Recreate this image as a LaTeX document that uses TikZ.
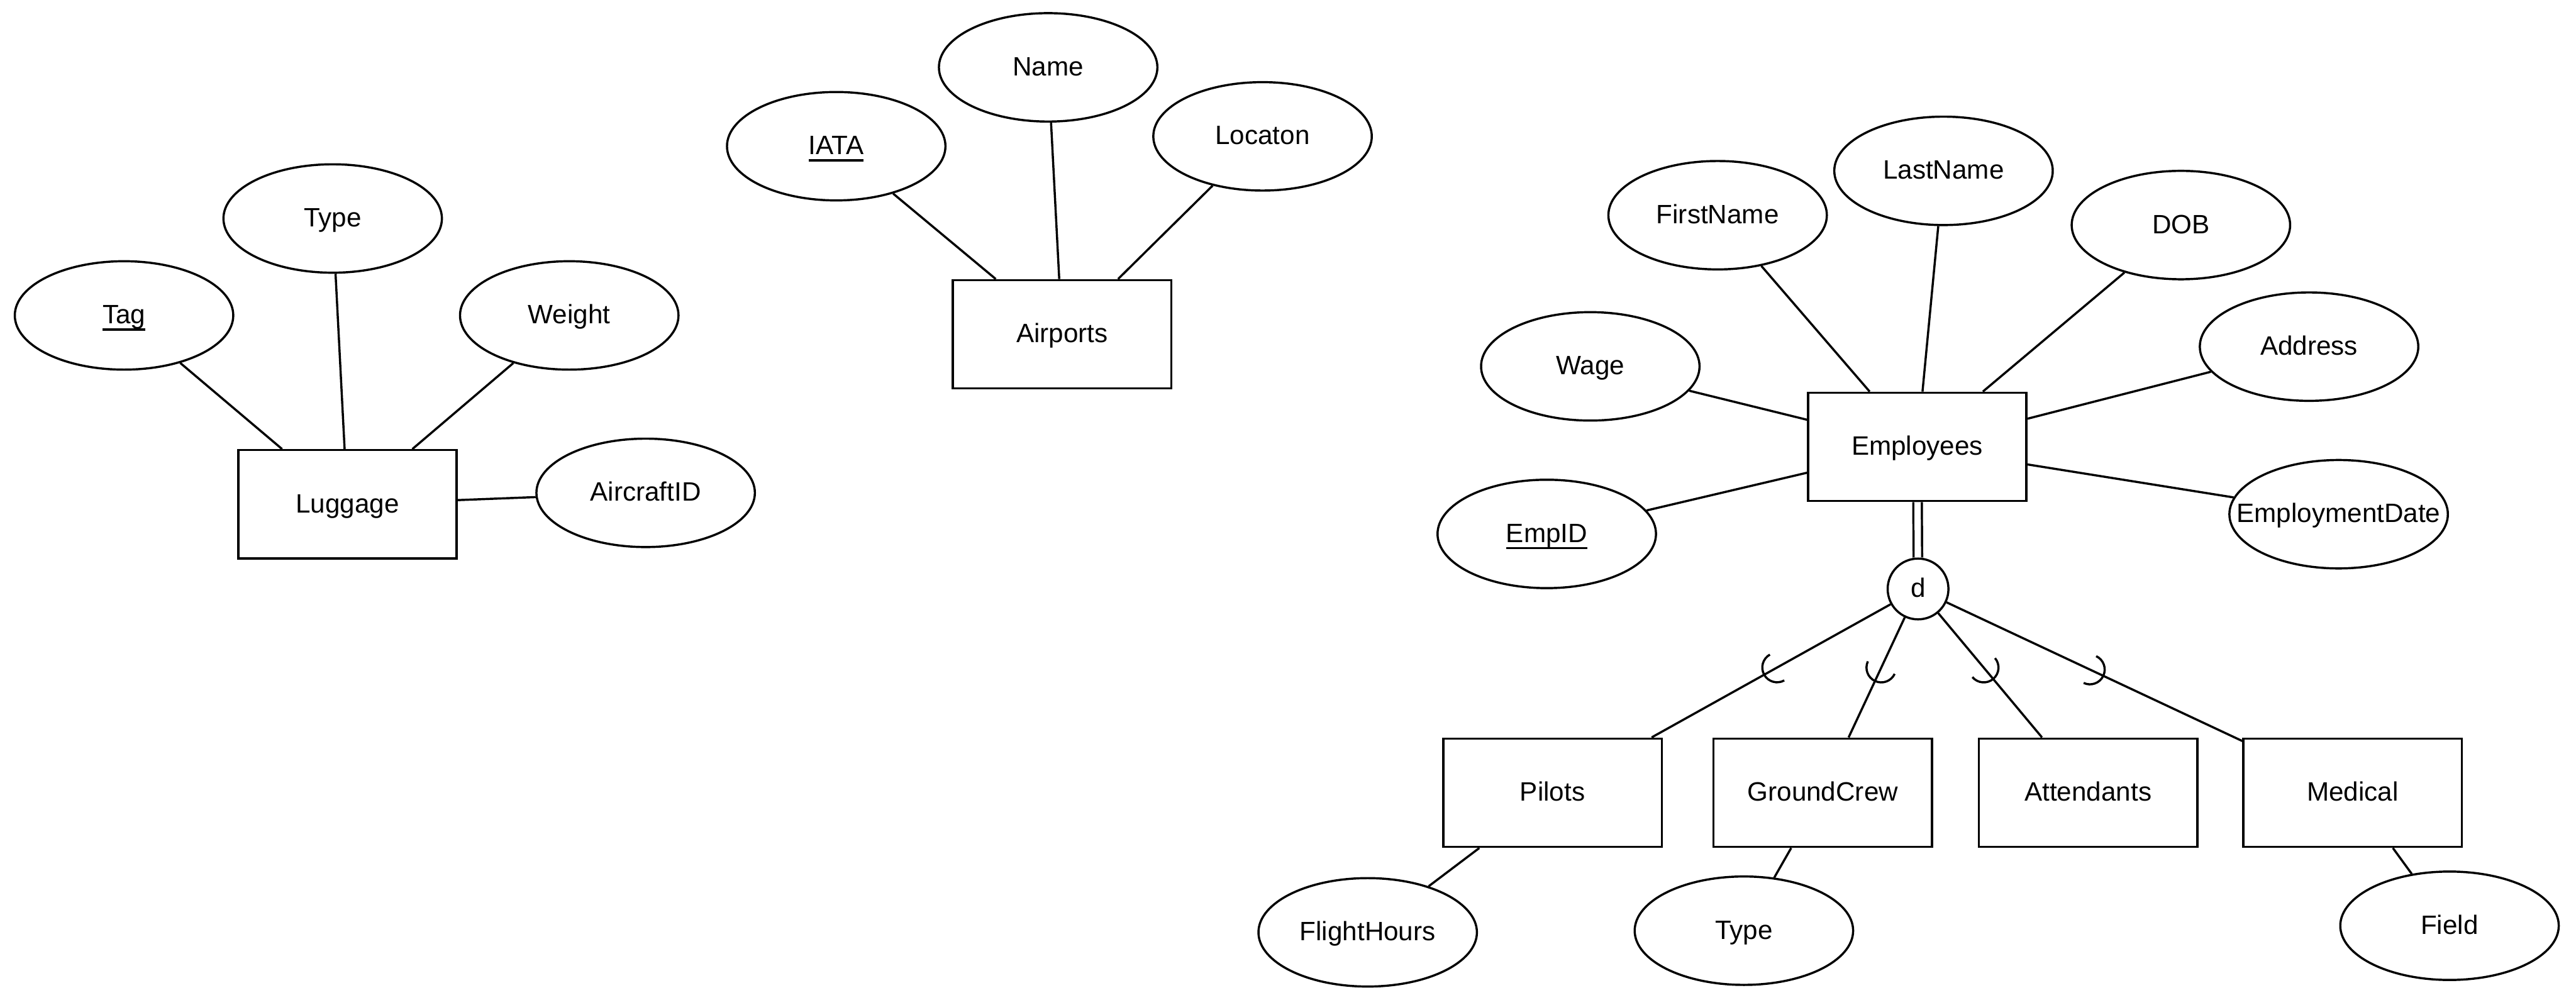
\documentclass[tikz,border=0pt]{standalone}
\usepackage{fontspec}
\setmainfont{Liberation Sans}
\usetikzlibrary{shapes.geometric,decorations.markings}
\newcommand\attrlbl[1]{\makebox[0pt]{#1}}
\newcommand\keylbl[1]{{\setbox0\hbox{#1}\rlap{\rule[-2.4pt]{\wd0}{0.8pt}}\box0}}
\begin{document}
\begin{tikzpicture}[x=0.02cm,y=-0.02cm,
  every node/.style={font=\fontsize{9.2}{11}\selectfont, inner sep=0pt, text height=0.8em, text depth=0.225em},
  ent/.style={draw, line width=0.75pt, rectangle, minimum width=2.66cm, minimum height=1.32cm},
  attr/.style={draw, line width=0.75pt, ellipse, minimum width=2.66cm, minimum height=1.32cm},
  disj/.style={draw, line width=0.75pt, circle, minimum size=0.74cm},
  conn/.style={line width=0.75pt},
  total/.style={line width=0.75pt, double, double distance=2.2pt},
  subarc/.style={line width=0.75pt, postaction={decorate}, decoration={markings, mark=at position 0.53 with {\draw[line width=0.75pt] (-0.18cm,0.18cm) arc[start angle=90,end angle=-90,radius=0.18cm];}}}
]
\useasboundingbox (0,0) rectangle (1568,611.6);

% Luggage
\node[ent] (lug) at (211.5,307) {Luggage};
\node[attr] (tag) at (75.5,192) {\attrlbl{\keylbl{Tag}}};
\node[attr] (ltype) at (202.5,133) {\attrlbl{Type}};
\node[attr] (weight) at (346.5,192) {\attrlbl{Weight}};
\node[attr] (acid) at (393,300) {\attrlbl{AircraftID}};
\draw[conn] (tag) -- (lug);
\draw[conn] (ltype) -- (lug);
\draw[conn] (weight) -- (lug);
\draw[conn] (acid) -- (lug);

% Airports
\node[ent] (air) at (646.5,203.5) {Airports};
\node[attr] (iata) at (509,89) {\attrlbl{\keylbl{IATA}}};
\node[attr] (aname) at (638,41) {\attrlbl{Name}};
\node[attr] (loc) at (768.5,83) {\attrlbl{Locaton}};
\draw[conn] (iata) -- (air);
\draw[conn] (aname) -- (air);
\draw[conn] (loc) -- (air);

% Employees
\node[ent] (emp) at (1167,272) {Employees};
\node[attr] (fname) at (1045.5,131) {\attrlbl{FirstName}};
\node[attr] (lname) at (1183,104) {\attrlbl{LastName}};
\node[attr] (dob) at (1327.5,137) {\attrlbl{DOB}};
\node[attr] (wage) at (968,223) {\attrlbl{Wage}};
\node[attr] (addr) at (1405.5,211) {\attrlbl{Address}};
\node[attr] (empid) at (941.5,325) {\attrlbl{\keylbl{EmpID}}};
\node[attr] (edate) at (1423.5,313) {\attrlbl{EmploymentDate}};
\draw[conn] (fname) -- (emp);
\draw[conn] (lname) -- (emp);
\draw[conn] (dob) -- (emp);
\draw[conn] (wage) -- (emp);
\draw[conn] (addr) -- (emp);
\draw[conn] (empid) -- (emp);
\draw[conn] (edate) -- (emp);

% Specialization
\node[disj] (d) at (1167.5,358.5) {d};
\draw[total] (emp) -- (d);
\node[ent] (pil) at (945,482.5) {Pilots};
\node[ent] (gc) at (1109.5,482.5) {GroundCrew};
\node[ent] (att) at (1271,482.5) {Attendants};
\node[ent] (med) at (1432,482.5) {Medical};
\draw[subarc] (d) -- (pil);
\draw[subarc] (d) -- (gc);
\draw[subarc] (d) -- (att);
\draw[subarc] (d) -- (med);

\node[attr] (fh) at (832.5,567.5) {\attrlbl{FlightHours}};
\node[attr] (gtype) at (1061.5,566.5) {\attrlbl{Type}};
\node[attr] (field) at (1491,563.5) {\attrlbl{Field}};
\draw[conn] (pil) -- (fh);
\draw[conn] (gc) -- (gtype);
\draw[conn] (med) -- (field);
\end{tikzpicture}
\end{document}
